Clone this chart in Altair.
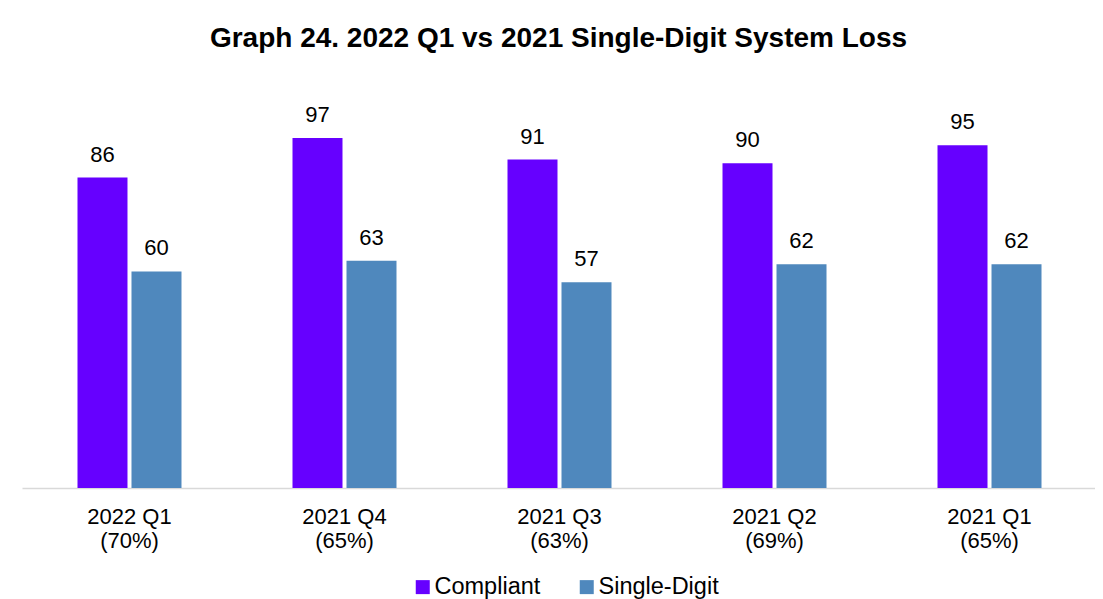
import altair as alt
import pandas as pd

categories = ["2022 Q1\n(70%)", "2021 Q4\n(65%)", "2021 Q3\n(63%)", "2021 Q2\n(69%)", "2021 Q1\n(65%)"]
series_names = ["Compliant", "Single-Digit"]
compliant = [86, 97, 91, 90, 95]
single_digit = [60, 63, 57, 62, 62]
colors = ["#6600FF", "#4F88BD"]

rows = []
for c, a, b in zip(categories, compliant, single_digit):
    rows.append({"period": c, "series": series_names[0], "value": a})
    rows.append({"period": c, "series": series_names[1], "value": b})
df = pd.DataFrame(rows)

FONT = "Liberation Sans"

x = alt.X(
    "period:N",
    sort=categories,
    scale=alt.Scale(paddingInner=0.5163, paddingOuter=0.2581, range=[0, 1075]),
    axis=alt.Axis(
        title=None,
        labelAngle=0,
        labelFontSize=22,
        labelFont=FONT,
        labelColor="#000000",
        labelPadding=18,
        labelLineHeight=24,
        labelExpr="split(datum.label, '\\n')",
        ticks=False,
        tickSize=0,
        domainColor="#D9D9D9",
        domainWidth=1.5,
        grid=False,
    ),
)
xo = alt.XOffset("series:N", sort=series_names, scale=alt.Scale(paddingInner=0.0741, paddingOuter=0))
y = alt.Y("value:Q", scale=alt.Scale(domain=[0, 110], nice=False), axis=None)

bars = alt.Chart(df).mark_bar().encode(
    x=x,
    xOffset=xo,
    y=y,
    color=alt.Color(
        "series:N",
        sort=series_names,
        scale=alt.Scale(domain=series_names, range=colors),
        legend=alt.Legend(
            title=None,
            orient="none",
            direction="horizontal",
            legendX=389,
            legendY=484,
            symbolType="square",
            symbolSize=196,
            symbolStrokeWidth=0,
            labelFontSize=23.5,
            labelFont=FONT,
            labelColor="#000000",
            labelOffset=0,
            columnPadding=34,
            padding=0,
        ),
    ),
)

labels = alt.Chart(df).mark_text(
    baseline="alphabetic", dy=-16, fontSize=22, font=FONT, color="#000000"
).encode(x=x, xOffset=xo, y=y, text=alt.Text("value:Q"))

chart = (
    alt.layer(bars, labels)
    .properties(
        width=1073,
        height=397,
        autosize=alt.AutoSizeParams(type="none"),
        padding={"left": 14, "top": 83, "right": 0, "bottom": 111},
        view=alt.ViewBackground(stroke="transparent", strokeWidth=0),
        title=alt.TitleParams(
            "Graph 24. 2022 Q1 vs 2021 Single-Digit System Loss",
            fontSize=28,
            font=FONT,
            fontWeight="bold",
            color="#000000",
            anchor="middle",
            frame="group",
            offset=38,
        ),
    )
    .configure_view(stroke="transparent", strokeWidth=0)
    .configure(background="#FFFFFF")
)

chart.save("out.html", embed_options={"renderer": "svg", "actions": False})
